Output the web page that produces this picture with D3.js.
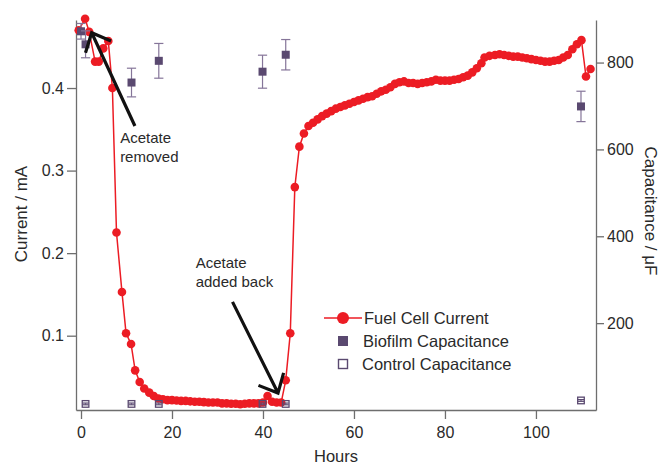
<html>
<head>
<meta charset='utf-8' />
<title>Fuel Cell Current and Capacitance</title>
<script src="https://d3js.org/d3.v7.min.js"></script>
<style>
body { margin: 0; background: #fff; }
text { font-family: "Liberation Sans", Arial, sans-serif; }
</style>
</head>
<body>
<script>

// fuel cell current (mA) vs hours
var hours = [-0.5, 0.9, 1.8, 3.1, 3.9, 4.9, 6.0, 6.9, 7.8, 9.0, 9.9, 11.0, 11.9, 12.9, 13.9, 15, 16, 17, 18, 19,
	20, 21, 22, 23, 24, 25, 26, 27, 28, 29, 30, 31, 32, 33, 34, 35, 36, 37, 38, 39,
	40, 41, 42, 43, 44, 45, 46, 47, 48, 49, 50, 51, 52, 53, 54, 55, 56, 57, 58, 59,
	60, 61, 62, 63, 64, 65, 66, 67, 68, 69, 70, 71, 72, 73, 74, 75, 76, 77, 78, 79,
	80, 81, 82, 83, 84, 85, 86, 87, 88, 88.7, 89.8, 91, 92, 93, 94, 95, 96, 97, 98, 99,
	100, 101, 102, 103, 104, 105, 106, 107, 108, 109, 110, 111, 112];
var current = [0.470, 0.484, 0.468, 0.432, 0.432, 0.448, 0.457, 0.400, 0.225, 0.153, 0.103, 0.090, 0.058, 0.044, 0.036, 0.031, 0.027, 0.024, 0.023, 0.022,
	0.022, 0.0215, 0.021, 0.021, 0.0205, 0.020, 0.020, 0.0195, 0.019, 0.019, 0.019, 0.018, 0.018, 0.0175, 0.0175, 0.017, 0.0175, 0.018, 0.018, 0.018,
	0.019, 0.027, 0.020, 0.019, 0.019, 0.046, 0.103, 0.280, 0.329, 0.345, 0.354, 0.358, 0.362, 0.366, 0.369, 0.372, 0.375, 0.377, 0.379, 0.381,
	0.383, 0.385, 0.387, 0.389, 0.390, 0.393, 0.396, 0.398, 0.401, 0.405, 0.407, 0.408, 0.406, 0.406, 0.405, 0.406, 0.407, 0.408, 0.410, 0.409,
	0.409, 0.409, 0.410, 0.411, 0.413, 0.415, 0.419, 0.424, 0.430, 0.437, 0.439, 0.440, 0.441, 0.440, 0.439, 0.438, 0.438, 0.437, 0.436, 0.435,
	0.434, 0.433, 0.432, 0.432, 0.433, 0.434, 0.437, 0.440, 0.447, 0.453, 0.458, 0.414, 0.423];

// biofilm capacitance (uF) with error
var bioHours = [0, 1, 11.1, 17.1, 39.9, 45, 109.9];
var bioCap = [872, 842, 754, 804, 779, 818, 699];
var bioErr = [18, 31, 33, 40, 38, 35, 35];

// control capacitance (uF)
var ctrlHours = [1, 11.1, 17.1, 39.9, 45, 109.9];
var ctrlCap = [14, 14, 14, 14, 14, 22];
var ctrlErr = [2, 2, 2, 2, 2, 2];

var xTicks = [0, 20, 40, 60, 80, 100];
var yTicks = [0.1, 0.2, 0.3, 0.4];
var y2Ticks = [200, 400, 600, 800];

var legendLabels = ["Fuel Cell Current", "Biofilm Capacitance", "Control Capacitance"];

// annotations: [hour, current] for text and arrow tail/tip
var notes = [
	{lines: ["Acetate", "removed"], at: [8.6, 0.333], tail: [11.85, 0.354], tip: [2.35, 0.467]},
	{lines: ["Acetate", "added back"], at: [25.2, 0.182], tail: [33.3, 0.141], tip: [43.3, 0.0305]}
];

var red = "#ec1c24", purple = "#5a4970", purpleLight = "#857599", axisGrey = "#6e6e6e", txt = "#2a2a2a";

var svg = d3.select("body").append("svg")
	.attr("width", 661).attr("height", 464);

var xScale = d3.scaleLinear().domain([-1.1, 113.2]).range([76, 596]);
var yScale = d3.scaleLinear().domain([0.010, 0.4824]).range([410, 20]);
var y2Scale = d3.scaleLinear().domain([0, 898]).range([410, 20]);

// axes
var gx = svg.append("g").attr("transform", "translate(0,410)")
	.call(d3.axisBottom(xScale).tickValues(xTicks).tickSize(9).tickSizeOuter(0).tickPadding(7.5));
var gy = svg.append("g").attr("transform", "translate(76,0)")
	.call(d3.axisLeft(yScale).tickValues(yTicks).tickFormat(d3.format(".1f")).tickSize(9).tickSizeOuter(0).tickPadding(3));
var gy2 = svg.append("g").attr("transform", "translate(596,0)")
	.call(d3.axisRight(y2Scale).tickValues(y2Ticks).tickSize(8).tickSizeOuter(0).tickPadding(3));

[gx, gy, gy2].forEach(function(g) {
	g.selectAll("path, line").attr("stroke", axisGrey).attr("stroke-width", 1.3);
	g.selectAll("text").attr("fill", txt).attr("font-size", "16px")
		.attr("font-family", "'Liberation Sans', Arial, sans-serif");
});

svg.append("text").attr("x", 336).attr("y", 462).attr("text-anchor", "middle")
	.attr("font-size", "16.5px").attr("fill", txt).text("Hours");
svg.append("text").attr("transform", "translate(27,214) rotate(-90)").attr("text-anchor", "middle")
	.attr("font-size", "17px").attr("fill", txt).text("Current / mA");
svg.append("text").attr("transform", "translate(645,211) rotate(90)").attr("text-anchor", "middle")
	.attr("font-size", "17px").attr("fill", txt).text("Capacitance / \u03bcF");

// current line + markers
var pts = hours.map(function(h, i) { return {h: h, v: current[i]}; });
var line = d3.line().x(d => xScale(d.h)).y(d => yScale(d.v));

svg.append("path").datum(pts)
	.attr("fill", "none").attr("stroke", red).attr("stroke-width", 1.5)
	.attr("d", line);

svg.append("g").selectAll("circle").data(pts).enter().append("circle")
	.attr("cx", d => xScale(d.h)).attr("cy", d => yScale(d.v))
	.attr("r", 4.3).attr("fill", red);

// capacitance
var drawCap = function(hs, cs, es, filled) {
	var g = svg.append("g");
	hs.forEach(function(h, i) {
		var x = xScale(h);
		var top = y2Scale(cs[i] + es[i]), bot = y2Scale(cs[i] - es[i]), mid = y2Scale(cs[i]);
		var cw = filled ? 4.6 : 3;
		g.append("line").attr("x1", x).attr("x2", x).attr("y1", top).attr("y2", bot)
			.attr("stroke", purpleLight).attr("stroke-width", 1.2);
		[top, bot].forEach(function(yy) {
			g.append("line").attr("x1", x - cw).attr("x2", x + cw).attr("y1", yy).attr("y2", yy)
				.attr("stroke", filled ? purpleLight : purple).attr("stroke-width", 1.2);
		});
		if (filled) {
			g.append("rect").attr("x", x - 4).attr("y", mid - 4).attr("width", 8).attr("height", 8)
				.attr("fill", purple);
		} else {
			g.append("rect").attr("x", x - 3.3).attr("y", mid - 3.3).attr("width", 6.6).attr("height", 6.6)
				.attr("fill", "none").attr("stroke", purple).attr("stroke-width", 1.3);
		}
	});
};
drawCap(bioHours, bioCap, bioErr, true);
drawCap(ctrlHours, ctrlCap, ctrlErr, false);

// annotations with arrows
notes.forEach(function(n) {
	var tx = xScale(n.at[0]), ty = yScale(n.at[1]);
	n.lines.forEach(function(l, i) {
		svg.append("text").attr("x", tx).attr("y", ty + i * 18.5)
			.attr("font-size", "15px").attr("fill", txt).text(l);
	});
	var x0 = xScale(n.tail[0]), y0 = yScale(n.tail[1]);
	var x1 = xScale(n.tip[0]), y1 = yScale(n.tip[1]);
	var ang = Math.atan2(y0 - y1, x0 - x1), len = 21, spread = 42 * Math.PI / 180;
	var wing = function(s) { return [x1 + len * Math.cos(ang + s), y1 + len * Math.sin(ang + s)]; };
	var w1 = wing(spread), w2 = wing(-spread);
	svg.append("path")
		.attr("d", "M" + x0 + "," + y0 + "L" + x1 + "," + y1 + "M" + w1 + "L" + x1 + "," + y1 + "L" + w2)
		.attr("fill", "none").attr("stroke", "#111").attr("stroke-width", 3.2)
		.attr("stroke-linejoin", "miter");
});

// legend
var legend = svg.append("g").attr("transform", "translate(343,318)");
legend.append("line").attr("x1", -19).attr("x2", 19).attr("y1", 0).attr("y2", 0)
	.attr("stroke", red).attr("stroke-width", 1.5);
legend.append("circle").attr("r", 6).attr("fill", red);
legend.append("rect").attr("x", -5).attr("y", 23 - 5).attr("width", 10).attr("height", 10).attr("fill", purple);
legend.append("rect").attr("x", -4.5).attr("y", 46 - 4.5).attr("width", 9).attr("height", 9)
	.attr("fill", "none").attr("stroke", purple).attr("stroke-width", 1.4);
legendLabels.forEach(function(l, i) {
	legend.append("text").attr("x", [21, 20, 19][i]).attr("y", i * 23).attr("dy", "0.35em")
		.attr("font-size", "16.5px").attr("fill", txt).text(l);
});

</script>
</body>
</html>
